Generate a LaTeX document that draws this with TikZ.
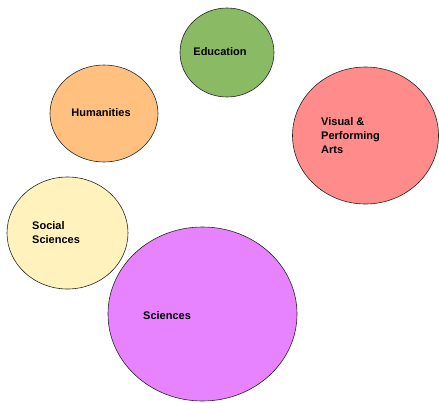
\documentclass[tikz,border=0pt]{standalone}
\usepackage{fontspec}
\setmainfont{Liberation Sans}
\usepackage{xcolor}
\usetikzlibrary{shapes.geometric}

\definecolor{edugreen}{HTML}{8BBA65}
\definecolor{humorange}{HTML}{FFC080}
\definecolor{artsred}{HTML}{FF8B8B}
\definecolor{socyellow}{HTML}{FFF2BD}
\definecolor{scipurple}{HTML}{E783FF}

\tikzset{
  bubble/.style={ellipse, draw=black!85, line width=0.6pt, inner sep=0pt},
  bubtext/.style={font=\bfseries\fontsize{11}{14}\selectfont, align=left, inner sep=0pt}
}

\begin{document}
\begin{tikzpicture}[x=1pt, y=-1pt]
        \useasboundingbox (0,0) rectangle (439,402);
        % bubbles
        \node[bubble, fill=edugreen, minimum width=94, minimum height=89] (edu) at (227,52.5) {};
        \node[bubble, fill=humorange, minimum width=108, minimum height=97] (hum) at (104,113.5) {};
        \node[bubble, fill=artsred, minimum width=146, minimum height=137] (arts) at (365.5,135.5) {};
        \node[bubble, fill=socyellow, minimum width=121, minimum height=112] (soc) at (67.5,233) {};
        \node[bubble, fill=scipurple, minimum width=189, minimum height=174] (sci) at (202.5,314) {};
        % texts
        \node[bubtext] (edutext) at (220,52) {Education};
        \node[bubtext] (humtext) at (101,113) {Humanities};
        \node[bubtext, anchor=west] (artstext) at (321,136) {Visual \&\\Performing\\Arts};
        \node[bubtext, anchor=west] (soctext) at (32,233) {Social\\Sciences};
        \node[bubtext, anchor=west] (scitext) at (143,316) {Sciences};
\end{tikzpicture}
\end{document}
